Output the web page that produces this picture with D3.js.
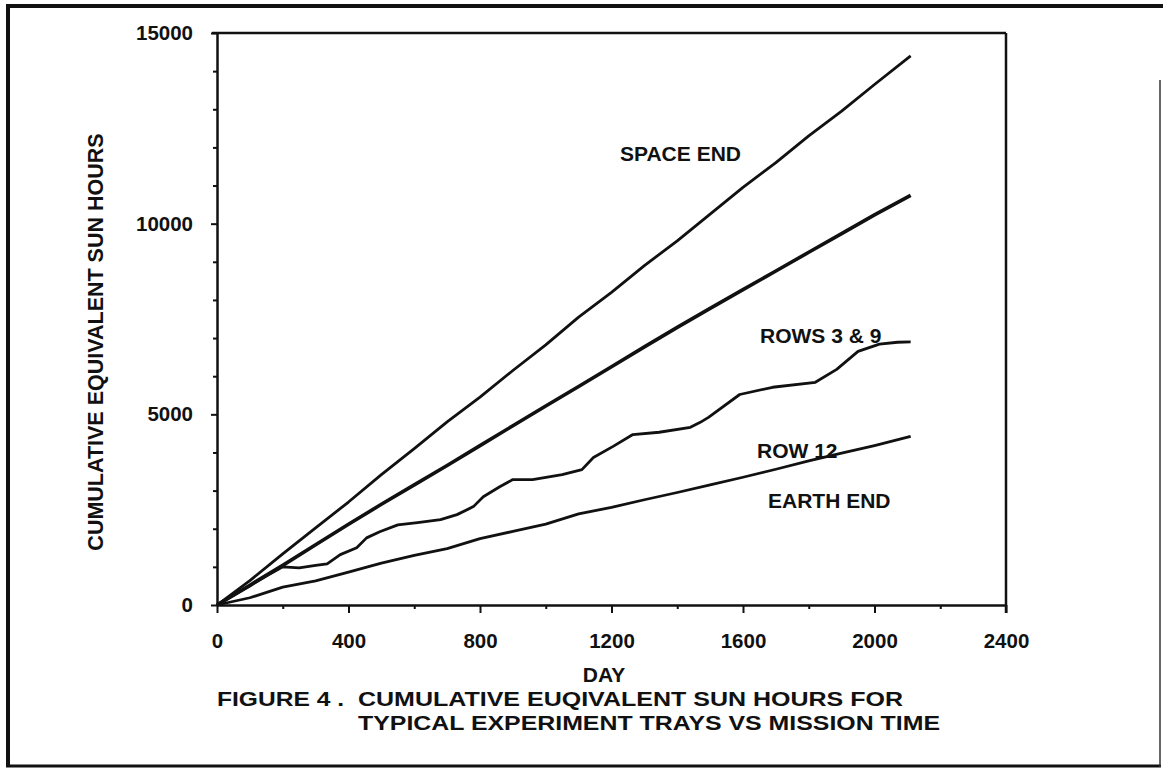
<!DOCTYPE html>
<meta charset="utf-8">
<html>
<head>
<style>
  body { margin: 0; background: #fff; }
  text { font-family: "Liberation Sans", Arial, sans-serif; font-weight: bold; fill: #111; }
  .axis path, .axis line { stroke: #111; }
</style>
</head>
<script src="https://d3js.org/d3.v7.min.js"></script>
<body>
<div id="vis"></div>
<script>
  // days and cumulative sun hours
  var spaceDays = [0, 100, 200, 300, 400, 500, 600, 700, 800, 900, 1000, 1100, 1200, 1300, 1400, 1500, 1600, 1700, 1800, 1900, 2000, 2110];
  var spaceHours = [0, 640, 1340, 2020, 2700, 3420, 4100, 4800, 5450, 6150, 6820, 7550, 8200, 8900, 9550, 10250, 10950, 11600, 12300, 12950, 13650, 14400];

  var rowsDays = [0, 100, 200, 300, 400, 500, 600, 700, 800, 900, 1000, 1100, 1200, 1300, 1400, 1500, 1600, 1700, 1800, 1900, 2000, 2110];
  var rowsHours = [0, 520, 1040, 1580, 2120, 2640, 3150, 3660, 4180, 4700, 5220, 5730, 6250, 6770, 7280, 7780, 8270, 8760, 9250, 9740, 10230, 10740];

  var row12Days = [0, 50, 100, 150, 200, 250, 300, 335, 375, 425, 455, 495, 550, 610, 680, 730, 780, 810, 860, 900, 960, 1050, 1110, 1145, 1205, 1265, 1345, 1440, 1470, 1495, 1590, 1690, 1820, 1885, 1950, 2015, 2070, 2110];
  var row12Hours = [0, 250, 500, 760, 1000, 975, 1040, 1080, 1320, 1500, 1760, 1920, 2100, 2160, 2240, 2370, 2580, 2840, 3100, 3290, 3290, 3420, 3550, 3870, 4160, 4470, 4530, 4660, 4790, 4920, 5520, 5710, 5840, 6180, 6650, 6840, 6890, 6900];

  var earthDays = [0, 100, 200, 300, 400, 500, 600, 700, 800, 900, 1000, 1100, 1200, 1300, 1400, 1500, 1600, 1700, 1800, 1900, 2000, 2110];
  var earthHours = [0, 190, 470, 630, 860, 1100, 1300, 1480, 1740, 1930, 2120, 2390, 2560, 2760, 2950, 3150, 3350, 3560, 3780, 3980, 4180, 4420];

  var xTicks = [0, 400, 800, 1200, 1600, 2000, 2400];
  var yTicks = [0, 5000, 10000, 15000];

  var seriesNames = ["SPACE END", "ROWS 3 & 9", "ROW 12", "EARTH END"];

  var W = 1163, H = 770;

  var svg = d3.select("#vis").append("svg")
    .attr("width", W)
    .attr("height", H);

  // outer frame of the figure
  svg.append("line").attr("x1", 8).attr("y1", 5).attr("x2", 8).attr("y2", 767).attr("stroke", "#111").attr("stroke-width", 4);
  svg.append("line").attr("x1", 6).attr("y1", 6).attr("x2", 1163).attr("y2", 6).attr("stroke", "#111").attr("stroke-width", 4);
  svg.append("line").attr("x1", 6).attr("y1", 766).attr("x2", 1161).attr("y2", 766).attr("stroke", "#111").attr("stroke-width", 3);
  svg.append("line").attr("x1", 1160).attr("y1", 80).attr("x2", 1160).attr("y2", 767).attr("stroke", "#333").attr("stroke-width", 1.5);

  var x = d3.scaleLinear().domain([0, 2400]).range([217, 1006]);
  var y = d3.scaleLinear().domain([0, 15000]).range([605, 33]);

  // minor ticks
  svg.append("g")
    .attr("class", "axis")
    .attr("transform", "translate(0," + y(0) + ")")
    .call(d3.axisBottom(x).tickValues(d3.range(200, 2400, 400)).tickSize(4).tickSizeOuter(0).tickFormat(""))
    .call(g => g.selectAll("line").attr("stroke-width", 2));
  svg.append("g")
    .attr("class", "axis")
    .attr("transform", "translate(" + x(0) + ",0)")
    .call(d3.axisLeft(y).tickValues(d3.range(1000, 15000, 1000).filter(v => v % 5000)).tickSize(4).tickSizeOuter(0).tickFormat(""))
    .call(g => g.selectAll("line").attr("stroke-width", 2));

  // major axes
  var xAxis = svg.append("g")
    .attr("class", "axis")
    .attr("transform", "translate(0," + y(0) + ")")
    .call(d3.axisBottom(x).tickValues(xTicks).tickSize(8).tickSizeOuter(0).tickPadding(20).tickFormat(d3.format("d")));
  xAxis.select(".domain").attr("stroke-width", 2.5);
  xAxis.selectAll("line").attr("stroke-width", 2);
  xAxis.selectAll("text").style("font-size", "20.5px").attr("fill", "#111");

  var yAxis = svg.append("g")
    .attr("class", "axis")
    .attr("transform", "translate(" + x(0) + ",0)")
    .call(d3.axisLeft(y).tickValues(yTicks).tickSize(6).tickSizeOuter(0).tickPadding(18).tickFormat(d3.format("d")));
  yAxis.select(".domain").attr("stroke-width", 2.5);
  yAxis.selectAll("line").attr("stroke-width", 2);
  yAxis.selectAll("text").style("font-size", "20.5px").attr("fill", "#111");

  // box top and right
  svg.append("line").attr("x1", x(0) - 5).attr("y1", y(15000)).attr("x2", x(2400)).attr("y2", y(15000)).attr("stroke", "#111").attr("stroke-width", 2.5);
  svg.append("line").attr("x1", x(2400)).attr("y1", y(15000)).attr("x2", x(2400)).attr("y2", y(0) + 8).attr("stroke", "#111").attr("stroke-width", 2.5);

  var valueline = d3.line()
    .x(function(d) { return x(d[0]); })
    .y(function(d) { return y(d[1]); });

  var series = [
    {days: spaceDays, hours: spaceHours, w: 2.8},
    {days: rowsDays, hours: rowsHours, w: 3.6},
    {days: row12Days, hours: row12Hours, w: 2.8},
    {days: earthDays, hours: earthHours, w: 2.8}
  ];

  series.forEach(function(s) {
    svg.append("path")
      .datum(d3.zip(s.days, s.hours))
      .attr("fill", "none")
      .attr("stroke", "#111")
      .attr("stroke-width", s.w)
      .attr("stroke-linejoin", "round")
      .attr("d", valueline);
  });

  // series labels
  var labelPos = [[620, 161], [760, 343], [757, 458], [768, 508]];
  seriesNames.forEach(function(n, i) {
    svg.append("text")
      .attr("x", labelPos[i][0])
      .attr("y", labelPos[i][1])
      .style("font-size", "21px")
      .text(n);
  });

  // axis titles
  svg.append("text")
    .attr("x", 604)
    .attr("y", 682)
    .style("text-anchor", "middle")
    .style("font-size", "21px")
    .text("DAY");

  svg.append("text")
    .attr("transform", "translate(103,342) rotate(-90)")
    .style("text-anchor", "middle")
    .style("font-size", "21.5px")
    .text("CUMULATIVE EQUIVALENT SUN HOURS");

  // caption, two lines
  var caption = [
    {t: "FIGURE 4 .", x: 217, y: 706, len: 127},
    {t: "CUMULATIVE EUQIVALENT SUN HOURS FOR", x: 358, y: 706, len: 545},
    {t: "TYPICAL EXPERIMENT TRAYS VS MISSION TIME", x: 358, y: 730, len: 582}
  ];
  caption.forEach(function(c) {
    svg.append("text")
      .attr("x", c.x)
      .attr("y", c.y)
      .attr("textLength", c.len)
      .attr("lengthAdjust", "spacingAndGlyphs")
      .style("font-size", "21px")
      .text(c.t);
  });
</script>
</body>
</html>
